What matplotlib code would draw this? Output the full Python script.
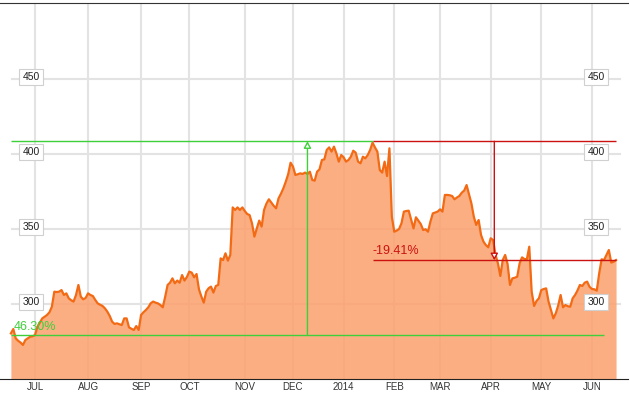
import matplotlib
matplotlib.use('Agg')
import matplotlib.pyplot as plt
import matplotlib.transforms as mtransforms
import pandas as pd

plt.rcParams['font.family'] = ['Liberation Sans', 'DejaVu Sans']

# trading days Jun 17 2013 .. Jun 16 2014 (NYSE holidays removed)
holidays = ['2013-07-04', '2013-09-02', '2013-11-28', '2013-12-25', '2014-01-01',
            '2014-01-20', '2014-02-17', '2014-04-18', '2014-05-26']

# daily close
close = [
    # Jun 2013
    280.4, 283.3, 277.1, 275.5, 274.3, 272.7, 276.0, 277.1, 278.2, 278.5,
    # Jul
    279.3, 284.9, 287.5, 290.4, 291.5, 292.7, 294.5, 298.2, 308.2, 308.0, 308.2,
    309.3, 306.0, 307.1, 303.8, 302.5, 301.6, 306.0, 312.7, 304.9, 303.1, 304.0,
    # Aug
    307.1, 306.0, 305.3, 302.7, 300.4, 299.5, 298.7, 297.1, 294.9, 292.0, 288.2,
    286.7, 287.1, 286.5, 286.0, 290.4, 290.4, 284.4, 283.5, 282.7, 285.3, 282.7,
    # Sep
    292.7, 294.5, 296.0, 297.8, 300.5, 301.6, 300.9, 300.4, 299.3, 297.8,
    304.9, 312.7, 314.2, 317.1, 313.8, 315.6, 314.2, 319.3, 315.6, 318.0,
    # Oct
    321.6, 320.9, 317.8, 320.0, 309.8, 305.0, 300.9, 308.2, 310.5, 311.6, 307.6, 312.0,
    312.7, 330.4, 329.3, 333.8, 328.9, 332.7, 364.4, 362.7, 364.4, 362.7, 364.4,
    # Nov
    362.0, 360.0, 359.3, 353.8, 344.9, 350.4, 355.6, 351.6, 362.7, 367.0,
    369.8, 367.6, 365.5, 363.8, 370.4, 373.5, 377.1, 381.5, 386.5, 394.2,
    # Dec
    391.6, 386.0, 386.5, 387.1, 386.7, 387.6, 386.7, 388.2, 382.7, 382.2, 388.2,
    389.8, 396.0, 396.4, 402.7, 404.4, 401.6, 404.9, 400.4, 394.9, 399.3,
    # Jan 2014
    397.8, 394.9, 396.0, 398.2, 402.2, 400.9, 394.9, 393.8, 398.2, 397.1, 399.3,
    402.7, 407.6, 404.4, 401.6, 389.3, 387.6, 394.9, 385.3, 403.8, 358.2,
    # Feb
    348.2, 348.9, 350.0, 353.8, 361.6, 362.0, 362.2, 356.4, 350.4, 357.8,
    355.5, 353.3, 349.3, 349.8, 348.2, 354.9, 360.4, 361.0, 361.6,
    # Mar
    363.1, 361.6, 372.7, 372.7, 372.5, 372.0, 369.8, 371.0, 372.0, 374.2, 375.6,
    379.3, 373.3, 367.1, 358.2, 352.7, 356.0, 346.0, 341.6, 339.3, 337.8,
    # Apr
    343.8, 342.7, 332.7, 327.1, 318.7, 329.3, 332.7, 326.7, 312.7, 317.1, 317.5,
    318.2, 327.1, 331.1, 330.0, 329.8, 338.2, 308.2, 298.7, 302.0, 303.8,
    # May
    309.3, 310.0, 310.4, 301.6, 296.0, 290.4, 293.8, 299.0, 306.0, 297.8, 299.3,
    298.5, 298.2, 303.8, 306.0, 309.0, 312.7, 312.0, 314.2, 314.9, 311.5,
    # Jun
    310.0, 309.8, 308.9, 320.4, 329.8, 329.3, 332.7, 336.0, 327.6, 328.2, 329.3,
]

y_labels = [300, 350, 400, 450]

# measuring tool: rise from start to peak, fall from peak to end
start_date = '2013-06-17'
peak_date = '2014-01-21'
green_end_date = '2014-06-09'
end_date = '2014-06-16'
level_high = 408.5
level_low = 279.2
level_end = 329.2
rise_text = '46.30%'
fall_text = '-19.41%'

GREEN = '#3fcf3a'
RED = '#cc1111'
GRID = '#e3e3e3'

dates = pd.bdate_range(start_date, end_date, freq='C', holidays=holidays)
pos = {d: i for i, d in enumerate(dates)}
x = list(range(len(close)))

fig = plt.figure(figsize=(6.3, 3.93), dpi=100)
ax = fig.add_axes([0, 14 / 393, 628 / 630, 376 / 393])

# month ticks at first trading day of each month
s = pd.Series(dates, index=dates)
firsts = s.groupby(dates.to_period('M')).first().iloc[1:]
ticks = [pos[d] for d in firsts]
labels = ['2014' if d.month == 1 else d.strftime('%b').upper() for d in firsts]
ax.set_xticks(ticks)
ax.set_xticklabels(labels)
ax.tick_params(axis='x', length=0, pad=2.5, labelsize=7, labelcolor='#333333')
ax.set_yticks([])
ax.set_axisbelow(True)
ax.grid(axis='x', color=GRID, lw=1.5)

for v in y_labels:
    ax.axhline(v, xmin=12 / 628, xmax=620 / 628, color=GRID, lw=1.5, zorder=0.5)

ax.fill_between(x, close, 250, color='#fba370', alpha=0.88, lw=0, zorder=2)
ax.plot(x, close, color='#f36a14', lw=1.6, zorder=3)

i0 = pos[pd.Timestamp(start_date)]
ipk = pos[pd.Timestamp(peak_date)]
ig = pos[pd.Timestamp(green_end_date)]
ie = pos[pd.Timestamp(end_date)]

ax.hlines(level_high, i0, ipk, color=GREEN, lw=1, zorder=4)
ax.hlines(level_low, i0, ig, color=GREEN, lw=1, zorder=4)
ax.annotate('', xy=((i0 + ig) / 2, level_high), xytext=((i0 + ig) / 2, level_low),
            arrowprops=dict(arrowstyle='-|>,head_length=0.4,head_width=0.22',
                            ec=GREEN, fc='white', lw=1, shrinkA=0, shrinkB=0), zorder=4)
ax.text(i0 + 1, level_low + 3.8, rise_text, color=GREEN, fontsize=9, va='baseline', zorder=4)

ax.hlines(level_high, ipk, ie, color=RED, lw=1, zorder=4)
ax.hlines(level_end, ipk, ie, color=RED, lw=1, zorder=4)
ax.annotate('', xy=((ipk + ie) / 2, level_end), xytext=((ipk + ie) / 2, level_high),
            arrowprops=dict(arrowstyle='-|>,head_length=0.4,head_width=0.22',
                            ec=RED, fc='white', lw=1, shrinkA=0, shrinkB=0), zorder=4)
ax.text(ipk, level_end + 4.1, fall_text, color=RED, fontsize=9, va='baseline', zorder=4)

# boxed price labels on both sides
trans = mtransforms.blended_transform_factory(ax.transAxes, ax.transData)
for v in y_labels:
    for xa in (31 / 628, 596 / 628):
        ax.text(xa, v + 1.5, str(v), transform=trans, ha='center', va='center',
                fontsize=7.5, color='#222222', zorder=6,
                bbox=dict(boxstyle='square,pad=0.28', fc='white', ec='#d0d0d0', lw=0.8))

for side in ('left', 'right'):
    ax.spines[side].set_visible(False)
ax.spines['top'].set_color('#333333')
ax.spines['bottom'].set_color('#222222')

ax.set_xlim(-4.52, 255.95)
ax.set_ylim(250, 500.67)

fig.savefig('out.png', dpi=100)
